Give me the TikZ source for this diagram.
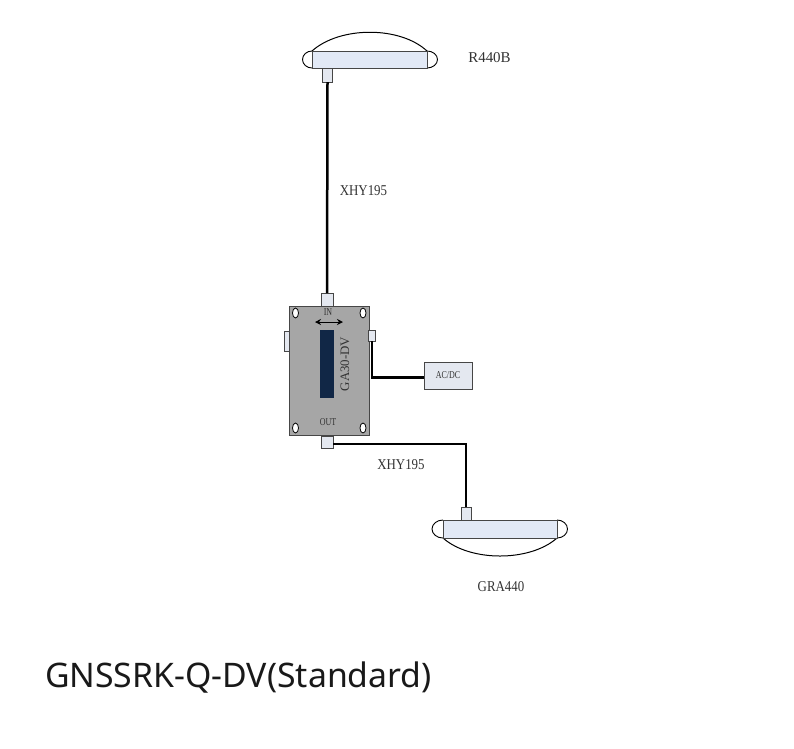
\documentclass[tikz,border=0pt]{standalone}
\usepackage{fontspec}
\setmainfont{Liberation Serif}
\newfontfamily\titlefont{Noto Sans}
\usetikzlibrary{arrows.meta}
\definecolor{bodyblue}{RGB}{226,233,246}
\definecolor{conngray}{RGB}{228,232,240}
\definecolor{boxgray}{RGB}{166,166,166}
\definecolor{screenblue}{RGB}{17,39,70}
\definecolor{linegray}{RGB}{70,70,70}
\tikzset{
	base/.style={inner sep=0pt, outer sep=0pt},
	antbody/.style={base, draw=linegray, fill=bodyblue, line width=1pt, minimum width=115pt, minimum height=17pt},
	conn/.style={base, draw=linegray, fill=conngray, line width=1pt},
	wire/.style={line width=2.5pt, black},
	label/.style={base, font=\fontsize{15}{17}\selectfont, text=black!80, xscale=0.86},
	smalllabel/.style={base, font=\fontsize{10.5}{12}\selectfont, text=black!80, xscale=0.76},
	hole/.style={draw=black, fill=white, line width=0.8pt}
}
\begin{document}
\begin{tikzpicture}[x=1pt,y=-1pt]
	\useasboundingbox (0,0) rectangle (794,748);
	% top antenna
	\draw[line width=1pt, fill=white] (312,51) .. controls (340,26) and (400,26) .. (427,51);
	\draw[line width=0.9pt, fill=white] (312,51) arc[start angle=90, end angle=270, x radius=9.5pt, y radius=8.5pt];
	\draw[line width=0.9pt, fill=white] (427,68) arc[start angle=-90, end angle=90, x radius=10.5pt, y radius=8.5pt];
	\node[antbody] (topant) at (369.5,59.5) {};
	\node[conn, minimum width=10pt, minimum height=14pt] (topconn) at (327.5,75) {};
	\node[label, xscale=1.16] (toplabel) at (489.5,57.5) {R440B};
	% bottom antenna
	\draw[line width=1pt, fill=white] (443,538) .. controls (470,562) and (530,562) .. (557,538);
	\draw[line width=0.9pt, fill=white] (443,520) arc[start angle=90, end angle=270, x radius=11pt, y radius=9pt];
	\draw[line width=0.9pt, fill=white] (557,538) arc[start angle=-90, end angle=90, x radius=10.5pt, y radius=9pt];
	\node[antbody, minimum width=114pt, minimum height=18pt] (botant) at (500,529) {};
	\node[conn, minimum width=10pt, minimum height=13pt] (botconn) at (466,513.5) {};
	\node[label] (botlabel) at (501,586.5) {GRA440};
	% splitter box
	\node[conn, minimum width=6pt, minimum height=20pt] (lefttab) at (287,341) {};
	\node[base, draw=linegray, fill=boxgray, line width=1pt, minimum width=80pt, minimum height=129pt] (splitter) at (329,370.5) {};
	\node[conn, minimum width=7pt, minimum height=11pt] (righttab) at (372,335.5) {};
	\node[conn, minimum width=12pt, minimum height=13pt] (inconn) at (327,299.5) {};
	\node[conn, minimum width=12pt, minimum height=12pt] (outconn) at (327,442) {};
	\node[base, fill=screenblue, minimum width=14pt, minimum height=68pt] (screen) at (327,364) {};
	\node[smalllabel] (inlabel) at (328,312.5) {IN};
	\node[smalllabel] (outlabel) at (328,422) {OUT};
	\node[label, rotate=90, xscale=0.86] (boxlabel) at (345,364) {GA30-DV};
	\draw[hole] (295.5,313) ellipse[x radius=3pt, y radius=5pt];
	\draw[hole] (363,313) ellipse[x radius=3pt, y radius=5pt];
	\draw[hole] (295.5,428) ellipse[x radius=3pt, y radius=5pt];
	\draw[hole] (363,428) ellipse[x radius=3pt, y radius=5pt];
	\coordinate (arrowl) at (315,322);
	\coordinate (arrowr) at (343,322);
	\draw[{Stealth[length=6pt,width=6pt]}-{Stealth[length=6pt,width=6pt]}, line width=1pt] (arrowl) -- (arrowr);
	% power supply
	\node[base, draw=linegray, fill=conngray, line width=1pt, minimum width=48pt, minimum height=27pt] (acdc) at (448,375.5) {};
	\node[smalllabel] (acdclabel) at (448,375) {AC/DC};
	% cables
	\draw[wire] (topconn.south) -- (inconn.north);
	\draw[wire] (righttab.south) |- ([yshift=-2pt]acdc.west);
	\draw[wire] ([yshift=-2pt]outconn.east) -| (botconn.north);
	\node[label] (toplink) at (363.5,190.5) {XHY195};
	\node[label] (botlink) at (401,464.5) {XHY195};
	% title
	\node[base, font=\titlefont\fontsize{33.8}{38}\selectfont, text=black!90, anchor=west] (title) at (45,678) {GNSSRK-Q-DV(Standard)};
\end{tikzpicture}
\end{document}
